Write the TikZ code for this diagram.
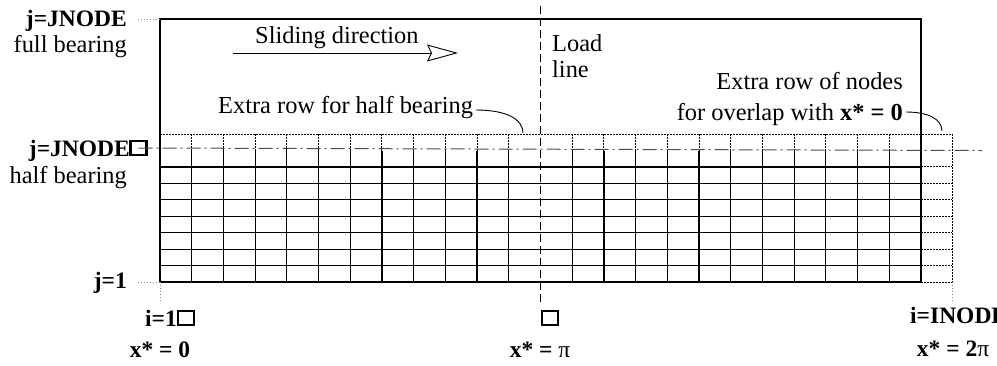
\documentclass[tikz,border=0pt]{standalone}
\usepackage{fontspec}
\setmainfont{Liberation Serif}
\usetikzlibrary{arrows.meta}
\begin{document}
\begin{tikzpicture}[x=1pt,y=-1pt,
  lbl/.style={inner sep=0pt, font=\fontsize{24.4}{26}\selectfont},
  blbl/.style={inner sep=0pt, font=\fontsize{23.5}{25}\selectfont\bfseries},
  sq/.style={draw, line width=2.2pt, minimum width=16pt, minimum height=14pt, inner sep=0pt},
  gridline/.style={line width=1.2pt},
  dotline/.style={line width=1pt, dash pattern=on 1.5pt off 1.5pt},
  leader/.style={line width=0.9pt, black!45, dash pattern=on 1pt off 2pt},
  loadline/.style={line width=1.1pt, dash pattern=on 8pt off 4pt},
  dashdot/.style={line width=1pt, black!70, dash pattern=on 14pt off 4pt on 2pt off 4pt},
  frame/.style={line width=2.5pt},
  thin/.style={line width=0.9pt},
]
\useasboundingbox (0,0) rectangle (997,365);

% solid grid
\foreach \k in {1,...,11,13,14,...,23}
  \draw[gridline] ({160+\k*31.708},150.5) -- ({160+\k*31.708},282);
\foreach \r in {1,...,7}
  \draw[gridline] (160,{282-\r*16.44}) -- (921,{282-\r*16.44});

% extra dotted row and column
\draw[dotline] (160,134) -- (952,134);
\foreach \k in {1,...,11,13,14,...,24}
  \draw[dotline] ({160+\k*31.708},134) -- ({160+\k*31.708},150.5);
\draw[dotline] (952,134) -- (952,282);
\foreach \r in {0,...,7}
  \draw[dotline] (921,{282-\r*16.44}) -- (952,{282-\r*16.44});

% frame
\draw[frame] (160,19) rectangle (921,282);

% leaders
\coordinate (l1a) at (138,19);  \coordinate (l1b) at (160,19);
\coordinate (l2a) at (138,282); \coordinate (l2b) at (160,282);
\coordinate (l3b) at (160,303);
\coordinate (l4a) at (952,282); \coordinate (l4b) at (952,302);
\draw[leader] (l1a) -- (l1b);
\draw[leader] (l2a) -- (l2b);
\draw[leader] (l2b) -- (l3b);
\draw[leader] (l4a) -- (l4b);

% load line
\coordinate (lt) at (540.5,6);
\coordinate (lb) at (540.5,305);
\draw[loadline] (lt) -- (lb);

% left labels
\node[blbl, anchor=base east] (jf) at (127,26) {j=JNODE};
\node[lbl, anchor=base east] (fb) at (127,52) {full bearing};
\node[blbl, anchor=base east] (jh) at (130,156) {j=JNODE};
\node[sq] (sqj) at (138.5,148) {};
\node[lbl, anchor=base east] (hb) at (127,183) {half bearing};
\node[blbl, anchor=base east] (j1) at (127,288) {j=1};

% half bearing line
\coordinate (ddend) at (982,150.5);
\draw[dashdot] (sqj.center) -- (ddend);

% bottom labels
\node[blbl, anchor=base east] (i1) at (177,326) {i=1};
\node[sq] (sq1) at (186,318) {};
\node[blbl, anchor=base] (x0) at (160,357) {x* = 0};
\node[sq] (sqp) at (550,318) {};
\node[blbl, anchor=base] (xp) at (540,357) {x* = \mdseries π};
\node[blbl, anchor=base west] (in) at (910,323) {i=INODE};
\node[blbl, anchor=base] (x2) at (953,356) {x* = 2\mdseries π};

% sliding direction
\node[lbl, anchor=base west] (sd) at (255,43) {Sliding direction};
\coordinate (sa) at (233,53);
\coordinate (sb) at (458,53);
\draw[thin, -{Stealth[open, length=31pt, width=17pt, inset=4pt]}] (sa) -- (sb);

% load line label
\node[lbl, anchor=base west] (ld) at (552,51) {Load};
\node[lbl, anchor=base west] (ln) at (552,77) {line};

% extra row annotations
\node[lbl, anchor=base west, inner xsep=3pt] (ex1) at (215,113) {Extra row for half bearing};
\coordinate (c1) at (523,133);
\draw[thin] ([yshift=3pt]ex1.base east) .. controls +(30,0) and +(0,-14) .. (c1);

\node[lbl, anchor=base east] (ex2a) at (903,89) {Extra row of nodes};
\node[lbl, anchor=base east, inner xsep=3pt] (ex2) at (906,120) {for overlap with \textbf{x* = 0}};
\coordinate (c2) at (942,131);
\draw[thin] ([yshift=8pt]ex2.base east) .. controls +(22,0) and +(0,-12) .. (c2);
\end{tikzpicture}
\end{document}
